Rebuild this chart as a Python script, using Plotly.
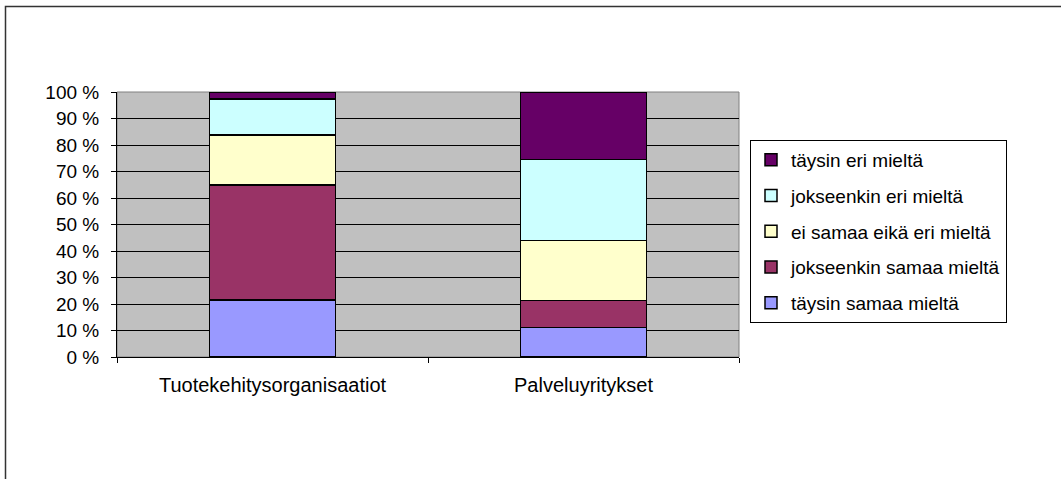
import plotly.graph_objects as go

# Survey responses, share of respondents (%) per organisation type
categories = ["Tuotekehitysorganisaatiot", "Palveluyritykset"]
series_names = [
    "täysin samaa mieltä",
    "jokseenkin samaa mieltä",
    "ei samaa eikä eri mieltä",
    "jokseenkin eri mieltä",
    "täysin eri mieltä",
]
series_values = [
    [21.6, 11.1],
    [43.3, 10.3],
    [18.9, 22.6],
    [13.5, 30.5],
    [2.7, 25.5],
]
series_colors = ["#9999FF", "#993366", "#FFFFCC", "#CCFFFF", "#660066"]
y_ticks = list(range(0, 101, 10))
y_tick_labels = [f"{v} %" for v in y_ticks]

W, H = 1061, 479
L, R, T, B = 117, 739, 92, 357  # plot area in pixels

fig = go.Figure()
n = len(series_names)
for i, (name, vals, col) in enumerate(zip(series_names, series_values, series_colors)):
    fig.add_trace(go.Bar(
        x=categories, y=vals, name=name,
        marker=dict(color=col, line=dict(color="#000000", width=1.5)),
        width=0.405, legendgroup=str(i), legendrank=(n - i) * 10,
    ))

def px_x(p):
    return (p - L) / (R - L)

def px_y(p):
    return (B - p) / (B - T)

fig.update_layout(
    width=W, height=H,
    margin=dict(l=L, r=W - R, t=T, b=H - B, pad=0),
    barmode="stack",
    plot_bgcolor="#C0C0C0",
    paper_bgcolor="#FFFFFF",
    font=dict(family="Liberation Sans, Arial, sans-serif", size=19, color="#000000"),
    showlegend=True,
    legend=dict(
        x=px_x(750), y=px_y(140), xanchor="left", yanchor="top",
        traceorder="grouped", tracegroupgap=8,
        bordercolor="#000000", borderwidth=1, bgcolor="#FFFFFF",
        font=dict(size=19),
    ),
    xaxis=dict(
        type="category", range=[-0.5, 1.5],
        showline=True, linecolor="#000000", linewidth=1,
        ticks="outside", tickson="boundaries", ticklen=5, tickcolor="#000000",
        showgrid=False, zeroline=False, fixedrange=True,
        ticklabelstandoff=10, tickfont=dict(size=20),
    ),
    yaxis=dict(
        range=[0, 100], tickmode="array", tickvals=y_ticks, ticktext=y_tick_labels,
        showline=True, linecolor="#000000", linewidth=1,
        ticks="outside", ticklen=5, tickcolor="#000000",
        showgrid=True, gridcolor="#000000", gridwidth=1,
        zeroline=False, fixedrange=True,
        ticklabelstandoff=8, tickfont=dict(size=19),
    ),
    shapes=[
        # plot area frame
        dict(type="rect", xref="paper", yref="paper", x0=0, x1=1, y0=0, y1=1,
             line=dict(color="#808080", width=1), layer="below"),
        # chart area border
        dict(type="rect", xref="paper", yref="paper",
             x0=px_x(5.5), x1=px_x(W + 20), y0=px_y(H + 20), y1=px_y(6.5),
             line=dict(color="#333333", width=1.5), layer="above"),
    ],
)

fig.write_html("out.html")
